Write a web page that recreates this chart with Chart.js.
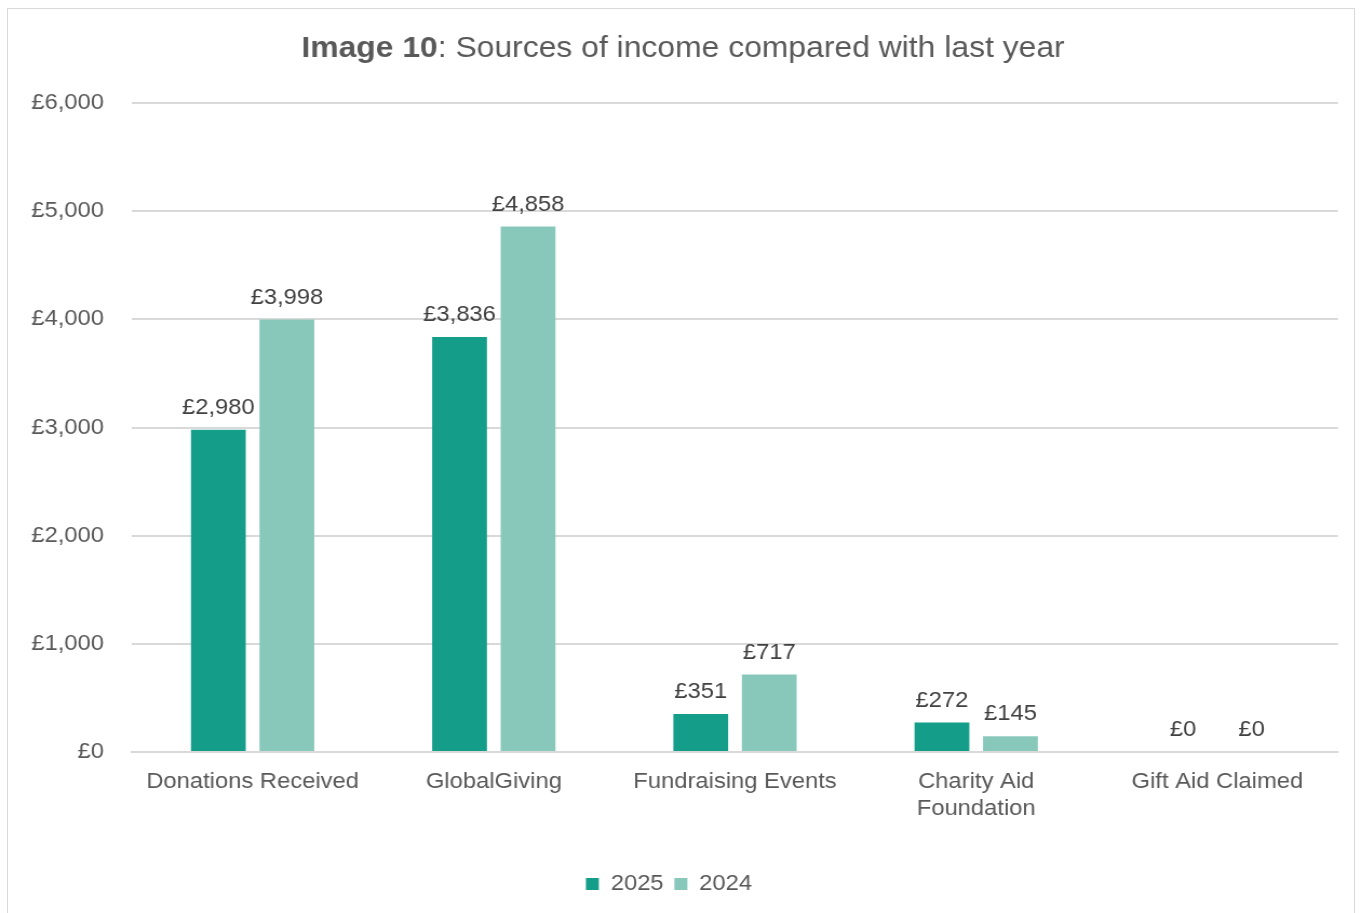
<!DOCTYPE html>
<html>
<head>
<meta charset="utf-8">
<script src="https://cdn.jsdelivr.net/npm/chart.js@4.4.1/dist/chart.umd.min.js"></script>
<style>
  html, body { margin: 0; padding: 0; background: #fff; }
  #frame { position: absolute; left: 7px; top: 8px; width: 1346px; height: 920px; border: 1px solid #d9d9d9; }
  #wrap { position: absolute; left: 0; top: 0; width: 1361px; height: 913px; }
  /* the source picture is a little wider than tall, so the canvas is stretched sideways */
  #incomeChart { width: 1361px; height: 913px; display: block; }
</style>
</head>
<body>
<div id="frame"></div>
<div id="wrap"><canvas id="incomeChart" width="1260" height="913" style="width:1361px;height:913px"></canvas></div>
<script>
const categories = ['Donations Received', 'GlobalGiving', 'Fundraising Events', ['Charity Aid', 'Foundation'], 'Gift Aid Claimed'];
const values2025 = [2980, 3836, 351, 272, 0];
const values2024 = [3998, 4858, 717, 145, 0];
const yTicks = [0, 1000, 2000, 3000, 4000, 5000, 6000];

const FONT = "'Liberation Sans', Arial, sans-serif";
const SX = 1361 / 1260;
const fmt = v => '£' + v.toLocaleString('en-GB');

// Title with bold lead-in, drawn by hand since Chart.js title can't mix weights
const titlePlugin = {
    id: 'mixedTitle',
    afterDraw(chart) {
        const ctx = chart.ctx;
        const bold = 'Image 10';
        const rest = ': Sources of income compared with last year';
        ctx.save();
        ctx.fillStyle = '#595959';
        ctx.textBaseline = 'middle';
        ctx.font = `bold 29.5px ${FONT}`;
        const w1 = ctx.measureText(bold).width;
        ctx.font = `29.5px ${FONT}`;
        const w2 = ctx.measureText(rest).width;
        const x0 = 683 / SX - (w1 + w2) / 2;
        ctx.font = `bold 29.5px ${FONT}`;
        ctx.fillText(bold, x0, 49);
        ctx.font = `29.5px ${FONT}`;
        ctx.fillText(rest, x0 + w1, 49);
        ctx.restore();
    }
};

const valueLabels = {
    id: 'valueLabels',
    afterDatasetsDraw(chart) {
        const ctx = chart.ctx;
        ctx.save();
        ctx.font = `22px ${FONT}`;
        ctx.fillStyle = '#404040';
        ctx.textAlign = 'center';
        ctx.textBaseline = 'bottom';
        chart.data.datasets.forEach((ds, i) => {
            chart.getDatasetMeta(i).data.forEach((bar, j) => {
                ctx.fillText(fmt(ds.data[j]), bar.x, bar.y - 11);
            });
        });
        ctx.restore();
    }
};

new Chart(document.getElementById('incomeChart').getContext('2d'), {
    type: 'bar',
    data: {
        labels: categories,
        datasets: [
            { label: '2025', data: values2025, backgroundColor: '#149e8a' },
            { label: '2024', data: values2024, backgroundColor: '#88c8bb' }
        ]
    },
    options: {
        responsive: false,
        animation: false,
        devicePixelRatio: 1,
        layout: { padding: { top: 103, right: 23 / SX, bottom: 8, left: 0 } },
        datasets: { bar: { categoryPercentage: 0.568, barPercentage: 0.8 } },
        plugins: {
            legend: {
                position: 'bottom',
                labels: {
                    font: { family: FONT, size: 22 },
                    color: '#595959',
                    boxWidth: 12,
                    boxHeight: 12,
                    padding: 10
                }
            },
            tooltip: { enabled: false }
        },
        scales: {
            x: {
                grid: { display: false },
                border: { color: '#d9d9d9', width: 2 },
                ticks: {
                    font: { family: FONT, size: 22 },
                    color: '#595959',
                    padding: 9,
                    maxRotation: 0
                },
                afterFit: s => { s.height = 111; }
            },
            y: {
                min: 0,
                max: 6000,
                afterBuildTicks: s => { s.ticks = yTicks.map(v => ({ value: v })); },
                grid: { color: '#d9d9d9', lineWidth: 2, drawTicks: false },
                border: { display: false },
                ticks: {
                    font: { family: FONT, size: 22 },
                    color: '#595959',
                    padding: 28 / SX,
                    callback: v => fmt(v)
                },
                afterFit: s => { s.width = 132 / SX; }
            }
        }
    },
    plugins: [titlePlugin, valueLabels]
});
</script>
</body>
</html>
